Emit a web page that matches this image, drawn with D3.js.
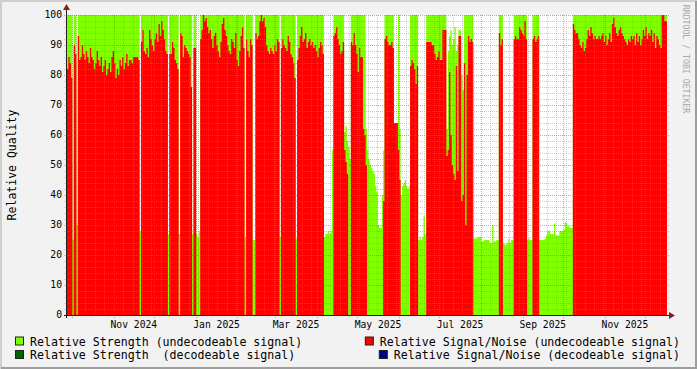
<!DOCTYPE html>
<html><head><meta charset="utf-8">
<script src="https://cdn.jsdelivr.net/npm/d3@7"></script>
<style>
html,body{margin:0;padding:0;background:#f2f2f2;}
svg{display:block;}
text{font-family:"DejaVu Sans Mono",monospace;white-space:pre;}
</style></head><body>
<svg id="chart" width="697" height="369"></svg>
<script>
// ---------------- DATA ----------------
const startDate = "2024-09-27T07:00:00Z";   // first daily sample
const dayCount = 446;
// Relative Signal/Noise (undecodeable) - daily
const snr = [
82,86,84,79,0,90,87,0,93,85,
86,90,87,85,88,86,84,89,86,85,
82,84,88,85,83,86,81,83,85,80,
82,84,81,86,88,84,79,82,80,85,
83,86,82,84,87,83,85,85,84,86,
86,86,86,85,0,91,95,88,87,89,
86,95,92,90,88,92,94,91,97,93,
98,95,92,88,87,0,87,87,91,89,
85,84,82,0,94,93,86,90,89,88,
87,86,76,0,89,89,0,0,0,92,
95,100,98,99,96,94,95,92,89,93,
94,90,88,86,91,97,99,95,93,90,
88,87,92,91,89,94,85,83,88,93,
96,89,0,92,88,86,92,90,0,0,
94,92,93,98,100,98,99,96,90,88,
87,89,88,87,90,88,92,91,0,89,
92,90,89,88,93,91,87,86,84,79,
0,85,89,93,96,91,92,94,89,91,
92,90,91,89,90,88,86,89,91,90,
87,0,0,0,0,0,0,0,93,94,
96,92,90,87,88,91,55,51,47,0,
0,91,90,94,90,87,81,89,86,86,
62,60,50,0,0,0,0,0,0,0,
0,0,0,0,0,38,92,93,91,90,
90,91,89,64,64,64,55,45,0,0,
0,0,0,0,0,83,85,84,82,77,
83,0,0,0,0,0,0,91,91,91,
91,90,90,87,85,86,88,85,85,95,
95,95,53,55,81,60,50,47,45,83,
48,93,93,38,40,84,30,80,93,91,
92,91,0,0,0,0,0,0,0,0,
0,0,0,0,0,0,0,0,0,0,
0,94,90,92,0,0,0,0,0,0,
0,0,92,93,92,92,96,95,94,93,
98,92,0,0,0,0,92,93,91,92,
93,0,0,0,0,0,0,0,0,0,
0,0,0,0,0,0,0,0,0,0,
0,0,0,0,0,0,97,95,94,94,
92,90,89,91,88,89,92,95,93,96,
94,92,93,92,92,93,92,93,94,91,
93,90,92,94,91,97,99,96,94,93,
95,96,94,93,92,91,90,92,91,93,
92,93,90,94,91,93,90,92,95,93,
96,92,94,93,95,91,94,89,93,92,
90,89,100,100,98,98];
// Relative Strength (undecodeable) - daily
const strength = [
100,100,100,100,25,100,100,30,100,100,
100,100,100,100,100,100,100,100,100,100,
100,100,100,100,100,100,100,100,100,100,
100,100,100,100,100,100,100,100,100,100,
100,100,100,100,100,100,100,100,100,100,
100,100,100,100,28,100,100,100,100,100,
100,100,100,100,100,100,100,100,100,100,
100,100,100,100,100,27,100,100,100,100,
100,100,100,27,100,100,100,100,100,100,
100,100,100,27,100,100,27,26,28,100,
100,100,100,100,100,100,100,100,100,100,
100,100,100,100,100,100,100,100,100,100,
100,100,100,100,100,100,100,100,100,100,
100,100,26,100,100,100,100,100,25,25,
100,100,100,100,100,100,100,100,100,100,
100,100,100,100,100,100,100,100,26,100,
100,100,100,100,100,100,100,100,100,100,
25.5,100,100,100,100,100,100,100,100,100,
100,100,100,100,100,100,100,100,100,100,
100,26,27,27,28,27,28,55,100,100,
100,100,100,100,100,100,61,63,58,56,
52,100,100,100,100,100,100,100,100,100,
100,100,62,55,52,50,49,48,47,43,
41,30,29,29,40,55,100,100,100,100,
100,100,100,55,55,55,100,62,40,43,
44,45,43,42,43,100,100,100,100,100,
100,25,26,25,26,33,27,100,100,100,
100,100,100,100,100,100,100,100,100,100,
100,100,62,88,93,95,90,92,96,88,
90,95,95,80,75,100,100,100,100,100,
100,100,25.5,25.5,25.5,26,26,26,24.5,24.5,
25,25,25,25,24,24,30,24.5,24.5,25,
25,100,100,100,24,23.5,23.5,24,25.3,24,
25,25,100,100,100,100,100,100,100,100,
100,100,25,25.5,25,25,100,100,100,100,
100,25,25,25,25,25.5,26.5,28,28,27,
27,27,30.5,26.5,26.5,26.5,28,28,28,28.5,
31,30.5,29.5,29.5,29,29,100,100,100,100,
100,100,100,100,100,100,100,100,100,100,
100,100,100,100,100,100,100,100,100,100,
100,100,100,100,100,100,100,100,100,100,
100,100,100,100,100,100,100,100,100,100,
100,100,100,100,100,100,100,100,100,100,
100,100,100,100,100,100,100,100,100,100,
100,100,100,100,100,100];
const yTicks = [0,10,20,30,40,50,60,70,80,90,100];
const xLabels = ["Nov 2024","Jan 2025","Mar 2025","May 2025","Jul 2025","Sep 2025","Nov 2025"];
const legendLabels = ["Relative Strength (undecodeable signal)","Relative Signal/Noise (undecodeable signal)",
                      "Relative Strength  (decodeable signal)","Relative Signal/Noise (decodeable signal)"];
const legendColors = ["#7fff00","#ff0000","#006400","#00008b"];
const yTitle = "Relative Quality";
const watermark = "RRDTOOL / TOBI OETIKER";

// ---------------- CHART ----------------
(function () {
const svg = d3.select("#chart");
const W = 697, H = 369;
const pL = 67, pR = 667, pT = 15, pB = 315;

const t0 = new Date(startDate);
const t1 = d3.utcDay.offset(t0, dayCount);
const x = d3.scaleUtc().domain([t0, t1]).range([pL, pR]);
const y = d3.scaleLinear().domain([0, 100]).range([pB, pT]);

svg.append("rect").attr("width", W).attr("height", H).attr("fill", "#f2f2f2");
svg.append("path").attr("d", `M1,${H} V1 H${W}`).attr("stroke", "#cfcfcf").attr("stroke-width", 2).attr("fill", "none");
svg.append("path").attr("d", `M1,${H-1} H${W-1} V1`).attr("stroke", "#9e9e9e").attr("stroke-width", 2).attr("fill", "none");

svg.append("rect").attr("x", pL).attr("y", pT).attr("width", pR - pL).attr("height", pB - pT).attr("fill", "#ffffff");

function series(vals) {
  const pts = vals.map((v, i) => ({ t: d3.utcDay.offset(t0, i), v }));
  pts.push({ t: t1, v: vals[vals.length - 1] });
  return pts;
}
const area = d3.area().x(d => x(d.t)).y0(y(0)).y1(d => y(d.v)).curve(d3.curveStepAfter);

svg.append("path").datum(series(strength)).attr("d", area).attr("fill", "#7fff00");
svg.append("path").datum(series(snr)).attr("d", area).attr("fill", "#ff0000");

const grid = svg.append("g");
const minorCol = "rgba(140,140,140,0.45)", majorCol = "rgba(222,79,79,0.6)";
d3.range(2, 101, 2).forEach(v => {
  const yy = Math.round(y(v)) + 0.5;
  const major = v % 10 === 0;
  grid.append("line").attr("x1", pL - 3).attr("x2", pR + 2).attr("y1", yy).attr("y2", yy)
    .attr("stroke", major ? majorCol : minorCol).attr("stroke-dasharray", "1,1");
});
const months = d3.utcMonth.range(d3.utcMonth.ceil(t0), t1);
const weeks = d3.utcFriday.range(t0, t1).filter(w => !months.some(m => Math.abs(m - w) < 864e5 * 0.6));
weeks.forEach(w => {
  const xx = Math.round(x(w)) + 0.5;
  grid.append("line").attr("x1", xx).attr("x2", xx).attr("y1", pT).attr("y2", pB + 2)
    .attr("stroke", minorCol).attr("stroke-dasharray", "1,1");
});
months.forEach(m => {
  const xx = Math.round(x(m)) + 0.5;
  grid.append("line").attr("x1", xx).attr("x2", xx).attr("y1", pT).attr("y2", pB + 3)
    .attr("stroke", majorCol).attr("stroke-dasharray", "1,1");
});

const axisCol = "#1f1f1f", arrowCol = "#801f1f";
svg.append("line").attr("x1", pL - 3).attr("x2", pR + 4).attr("y1", pB + 0.5).attr("y2", pB + 0.5).attr("stroke", axisCol);
svg.append("line").attr("x1", pL - 0.5).attr("x2", pL - 0.5).attr("y1", pB + 3).attr("y2", pT - 6).attr("stroke", axisCol);
svg.append("path").attr("d", `M${pR + 2},${pB - 3} L${pR + 8},${pB + 0.5} L${pR + 2},${pB + 4} Z`).attr("fill", arrowCol);
svg.append("path").attr("d", `M${pL - 4},${pT - 5} L${pL - 0.5},${pT - 11} L${pL + 3},${pT - 5} Z`).attr("fill", arrowCol);

const fAxis = 9.7;
svg.append("g").selectAll("text").data(yTicks).join("text")
  .attr("x", pL - 5).attr("y", d => y(d)).attr("dy", "0.36em")
  .attr("text-anchor", "end").attr("font-size", fAxis).attr("fill", "#000").text(d => d);

const parseM = d3.utcParse("%b %Y");
svg.append("g").selectAll("text").data(xLabels).join("text")
  .attr("x", d => { const m = parseM(d); return (x(m) + x(d3.utcMonth.offset(m, 1))) / 2; })
  .attr("y", 325).attr("dy", "0.36em").attr("text-anchor", "middle")
  .attr("font-size", fAxis).attr("fill", "#000").text(d => d);

svg.append("text").attr("transform", "translate(12,165) rotate(-90)").attr("text-anchor", "middle")
  .attr("dy", "0.36em").attr("font-size", 11.5).attr("fill", "#000").text(yTitle);

svg.append("text").attr("transform", "translate(686,59) rotate(90)").attr("text-anchor", "middle")
  .attr("dy", "0.36em").attr("font-size", 8.2).attr("fill", "#a8a8a8").text(watermark);

const fLeg = 11.6;
const rowsY = [341.5, 355];
legendLabels.forEach((lab, i) => {
  const row = Math.floor(i / 2), col = i % 2;
  const t = svg.append("text").attr("y", rowsY[row]).attr("dy", "0.36em").attr("font-size", fLeg).attr("fill", "#000").text(lab);
  let tx;
  if (col === 0) { t.attr("x", 30).attr("text-anchor", "start"); tx = 30; }
  else { t.attr("x", 680).attr("text-anchor", "end"); tx = 680 - t.node().getComputedTextLength(); }
  svg.append("rect").attr("x", tx - 14.5).attr("y", rowsY[row] - 4.5).attr("width", 8).attr("height", 8)
    .attr("fill", legendColors[i]).attr("stroke", "#222").attr("stroke-width", 1);
});
})();
</script>
</body></html>
